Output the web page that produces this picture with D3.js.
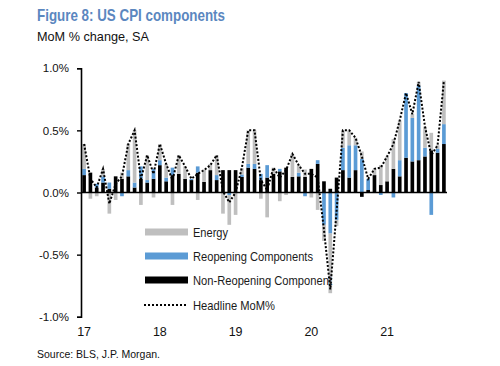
<!DOCTYPE html>
<html><head><meta charset="utf-8">
<script src="https://cdn.jsdelivr.net/npm/d3@7"></script>
<style>
html,body{margin:0;padding:0;background:#fff;}
svg{display:block;font-family:"Liberation Sans",Arial,sans-serif;}
</style></head>
<body><svg id="c" width="500" height="366"></svg>
<script>
const months = ["Jan-17","Feb-17","Mar-17","Apr-17","May-17","Jun-17","Jul-17","Aug-17","Sep-17","Oct-17","Nov-17","Dec-17",
"Jan-18","Feb-18","Mar-18","Apr-18","May-18","Jun-18","Jul-18","Aug-18","Sep-18","Oct-18","Nov-18","Dec-18",
"Jan-19","Feb-19","Mar-19","Apr-19","May-19","Jun-19","Jul-19","Aug-19","Sep-19","Oct-19","Nov-19","Dec-19",
"Jan-20","Feb-20","Mar-20","Apr-20","May-20","Jun-20","Jul-20","Aug-20","Sep-20","Oct-20","Nov-20","Dec-20",
"Jan-21","Feb-21","Mar-21","Apr-21","May-21","Jun-21","Jul-21","Aug-21","Sep-21","Oct-21"];

const nonReopening = [0.14,0.16,0.04,0.08,0.03,0.13,0.11,0.13,0.04,0.11,0.08,0.11,
0.22,0.09,0.14,0.15,0.11,0.10,0.16,0.085,0.18,0.10,0.18,0.18,
0.18,0.125,0.20,0.19,0.10,0.12,0.15,0.17,0.20,0.125,0.13,0.125,
0.19,0.23,0.09,0.03,0.12,0.18,0.12,0.18,-0.035,0.02,0.14,0.06,
0.09,0.19,0.13,0.28,0.25,0.26,0.29,0.34,0.32,0.39];

const reopening = [0.05,0.0,0.03,0.05,0.05,0.0,-0.03,0.05,0.04,0.10,0.02,0.08,
0.04,0.03,0.06,0.0,0.0,0.01,0.05,0.0,0.0,0.04,0.0,-0.02,
0.0,0.02,0.03,0.04,0.05,0.10,0.0,0.02,0.0,0.0,0.03,-0.03,
0.0,0.03,-0.26,-0.33,-0.22,0.18,0.26,0.20,0.27,0.09,0.0,-0.02,
0.0,-0.04,0.13,0.52,0.35,0.60,0.07,-0.18,0.03,0.16];

const energy = [0.20,-0.05,-0.03,0.06,-0.17,-0.06,0.05,0.21,0.42,-0.10,0.20,-0.04,
0.13,0.11,-0.10,0.15,0.10,0.0,-0.06,0.10,0.05,0.16,-0.17,-0.24,
-0.18,0.05,0.27,0.27,-0.05,-0.20,0.05,-0.07,-0.02,0.185,0.06,0.06,
-0.04,-0.14,-0.13,-0.48,-0.05,0.14,0.12,0.06,0.06,0.0,0.05,0.16,
0.20,0.24,0.32,0.0,0.03,0.03,0.17,0.14,0.03,0.35];

const headline = [0.39,0.11,0.04,0.19,-0.09,0.07,0.13,0.39,0.50,0.11,0.30,0.15,
0.39,0.23,0.10,0.30,0.21,0.11,0.15,0.18,0.22,0.30,0.01,-0.08,
0.00,0.20,0.50,0.50,0.10,0.02,0.20,0.12,0.18,0.31,0.22,0.15,
0.15,0.12,-0.30,-0.78,-0.15,0.50,0.50,0.44,0.29,0.11,0.19,0.20,
0.29,0.39,0.58,0.80,0.63,0.89,0.53,0.30,0.38,0.90];

const yearTickMonths = ["Jan-17","Jan-18","Jan-19","Jan-20","Jan-21"];
const yearTickLabels = ["17","18","19","20","21"];
const yTicks = [-1.0,-0.5,0.0,0.5,1.0];
const seriesKeys = ["nonReopening","reopening","energy"];
const legendLabels = ["Energy","Reopening Components","Non-Reopening Component","Headline MoM%"];
const colors = {energy:"#bfbfbf", reopening:"#5b9bd5", nonReopening:"#000000"};

const svg = d3.select("#c");
const x = d3.scaleBand().domain(months).range([81,447]).paddingInner(0.42).paddingOuter(0.2);
const y = d3.scaleLinear().domain([-1,1]).range([316.8,68.2]);

const table = months.map((m,i)=>({month:m, nonReopening:nonReopening[i], reopening:reopening[i], energy:energy[i]}));
const stack = d3.stack().keys(seriesKeys).offset(d3.stackOffsetDiverging);
const layers = stack(table);

svg.append("g").selectAll("g").data(layers).join("g")
  .attr("fill", d=>colors[d.key])
  .selectAll("rect").data(d=>d).join("rect")
  .attr("x", d=>x(d.data.month))
  .attr("width", x.bandwidth())
  .attr("y", d=>y(Math.max(d[0],d[1])))
  .attr("height", d=>Math.abs(y(d[0])-y(d[1])));

// y axis
const yAxis = svg.append("g").attr("transform","translate(81,0)")
  .call(d3.axisLeft(y).tickValues(yTicks).tickSize(4).tickPadding(8).tickFormat(d=>d.toFixed(1)+"%"));
yAxis.select(".domain").attr("stroke","#000").attr("stroke-width",1.6);
yAxis.selectAll(".tick line").attr("stroke","#000").attr("stroke-width",1.4);
yAxis.selectAll("text").attr("font-size","11.5px").attr("fill","#111");

// zero line
svg.append("line").attr("x1",81).attr("x2",447).attr("y1",y(0)).attr("y2",y(0))
  .attr("stroke","#000").attr("stroke-width",1.5);

// x labels
const xAxis = svg.append("g").attr("transform","translate(0,327)")
  .call(d3.axisBottom(x).tickValues(yearTickMonths).tickSize(0).tickPadding(0)
    .tickFormat(d=>yearTickLabels[yearTickMonths.indexOf(d)]));
xAxis.select(".domain").remove();
xAxis.selectAll("text").attr("font-size","12.5px").attr("fill","#111");

// headline line
const line = d3.line().x((d,i)=>x(months[i])+x.bandwidth()/2).y(d=>y(d));
svg.append("path").datum(headline).attr("d",line).attr("fill","none")
  .attr("stroke","#000").attr("stroke-width",2).attr("stroke-dasharray","2,1.8");

// legend
const legY = [232,256,280,305];
const legLen = [35,120,139,82];
const legKeys = ["energy","reopening","nonReopening"];
const leg = svg.append("g");
legKeys.forEach((k,i)=>{
  leg.append("rect").attr("x",145).attr("y",legY[i]-3.5).attr("width",43).attr("height",7).attr("fill",colors[k]);
});
leg.append("line").attr("x1",144).attr("x2",188).attr("y1",legY[3]).attr("y2",legY[3])
  .attr("stroke","#000").attr("stroke-width",2).attr("stroke-dasharray","2,2");
legendLabels.forEach((t,i)=>{
  leg.append("text").attr("x",193).attr("y",legY[i]+5).attr("font-size","13.5px").attr("fill","#1a1a1a")
    .attr("textLength",legLen[i]).attr("lengthAdjust","spacingAndGlyphs").text(t);
});

// titles
svg.append("text").attr("x",37).attr("y",21).attr("font-size","16.5px").attr("font-weight","bold")
  .attr("fill","#5b87bf").attr("textLength",188).attr("lengthAdjust","spacingAndGlyphs")
  .text("Figure 8: US CPI components");
svg.append("text").attr("x",37).attr("y",41).attr("font-size","13px").attr("fill","#111")
  .attr("textLength",112).attr("lengthAdjust","spacingAndGlyphs").text("MoM % change, SA");
svg.append("text").attr("x",37).attr("y",358).attr("font-size","11.5px").attr("fill","#111")
  .attr("textLength",123).attr("lengthAdjust","spacingAndGlyphs").text("Source: BLS, J.P. Morgan.");
</script></body></html>
